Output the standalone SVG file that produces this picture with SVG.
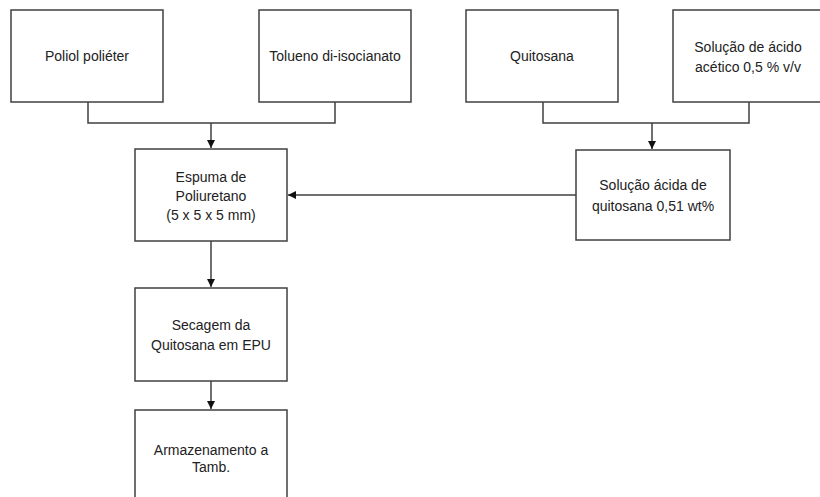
<svg xmlns="http://www.w3.org/2000/svg" width="820" height="497" viewBox="0 0 820 497">
<style>
.box{fill:#fff;stroke:#404040;stroke-width:1.5}
.lbl{font-family:"Liberation Sans",Arial,sans-serif;font-size:14px;fill:#222;text-anchor:middle}
.con{fill:none;stroke:#404040;stroke-width:1.5}
</style>
<defs>
<marker id="ah" markerWidth="10" markerHeight="10" refX="8" refY="5" orient="auto" markerUnits="userSpaceOnUse">
<path d="M0,1 L8,5 L0,9 Z" fill="#111"/>
</marker>
</defs>
<rect width="820" height="497" fill="#fff"/>
<g id="n1"><rect class="box" x="11" y="10" width="152" height="92"/><text class="lbl" x="87" y="61">Poliol poliéter</text></g>
<g id="n2"><rect class="box" x="259" y="10" width="152" height="92"/><text class="lbl" x="335" y="61">Tolueno di-isocianato</text></g>
<g id="n3"><rect class="box" x="466" y="10" width="152" height="92"/><text class="lbl" x="542" y="61">Quitosana</text></g>
<g id="n4"><rect class="box" x="673" y="10" width="152" height="92"/><text class="lbl" x="748" y="52">Solução de ácido</text><text class="lbl" x="748" y="72">acético 0,5 % v/v</text></g>
<g id="n5"><rect class="box" x="135" y="149" width="152" height="92"/><text class="lbl" x="211" y="182">Espuma de</text><text class="lbl" x="211" y="201">Poliuretano</text><text class="lbl" x="211" y="220">(5 x 5 x 5 mm)</text></g>
<g id="n6"><rect class="box" x="576" y="150" width="154" height="90"/><text class="lbl" x="653" y="190">Solução ácida de</text><text class="lbl" x="653" y="211">quitosana 0,51 wt%</text></g>
<g id="n7"><rect class="box" x="135" y="288" width="152" height="93"/><text class="lbl" x="211" y="330">Secagem da</text><text class="lbl" x="211" y="350">Quitosana em EPU</text></g>
<g id="n8"><rect class="box" x="135" y="410" width="152" height="100"/><text class="lbl" x="211" y="455">Armazenamento a</text><text class="lbl" x="211" y="472">Tamb.</text></g>
<g id="connectors">
<path class="con" d="M88,102 V123 H335 V102"/>
<path class="con" d="M211,123 V148" marker-end="url(#ah)"/>
<path class="con" d="M543,102 V123 H749 V102"/>
<path class="con" d="M652,123 V149" marker-end="url(#ah)"/>
<path class="con" d="M576,195 H288" marker-end="url(#ah)"/>
<path class="con" d="M211,241 V287" marker-end="url(#ah)"/>
<path class="con" d="M211,381 V409" marker-end="url(#ah)"/>
</g>
</svg>
